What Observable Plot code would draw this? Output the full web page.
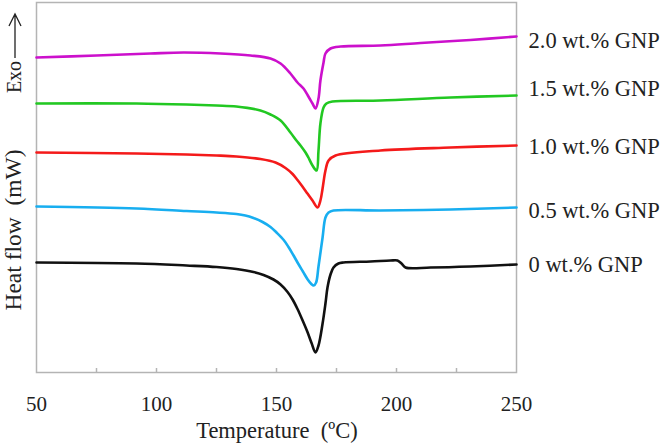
<!DOCTYPE html>
<html><head><meta charset="utf-8">
<script src="https://cdn.jsdelivr.net/npm/d3@7"></script>
<script src="https://cdn.jsdelivr.net/npm/@observablehq/plot@0.6"></script>
<style>
body{margin:0;background:#fff}
svg text{font-family:"Liberation Serif","Times New Roman",serif}
</style>
</head><body><div id="chart"></div>
<script>
// Series names and colours
const samples = ["0 wt.% GNP", "0.5 wt.% GNP", "1.0 wt.% GNP", "1.5 wt.% GNP", "2.0 wt.% GNP"];
const colors  = ["#111111", "#18aef0", "#f41a1a", "#22c822", "#cc10cc"];

// Temperature (°C) and heat flow (mW, arbitrary offset)
const t0  = [50, 91.7, 112.5, 125, 133.3, 140.4, 144.6, 148.75, 151.7, 154.6, 156.7, 158.75, 160.8, 162.9, 164.6, 166.25, 167.5, 169.2, 170.4, 171.25, 172.5, 173.75, 175.8, 177.9, 189.2, 197.5, 200.4, 202.1, 203.75, 214.2, 230.8, 250];
const hf0 = [11.0, 10.9, 10.7, 10.55, 10.35, 10.05, 9.75, 9.3, 8.8, 8.05, 7.3, 6.35, 5.25, 4.05, 2.95, 2.0, 2.7, 4.9, 6.9, 8.5, 9.8, 10.5, 10.9, 11.0, 11.1, 11.2, 11.2, 10.9, 10.5, 10.5, 10.6, 10.8];

const t05  = [50, 91.7, 112.5, 125, 133.3, 137, 140.4, 144.2, 147.5, 150, 153, 155, 157, 159, 161, 163, 164.5, 165.5, 166.5, 167.5, 169.2, 170.4, 171.7, 173.75, 193.3, 222.5, 250];
const hf05 = [16.6, 16.4, 16.15, 16.0, 15.85, 15.7, 15.45, 15.05, 14.55, 14.0, 13.25, 12.55, 11.75, 10.9, 10.1, 9.3, 8.85, 8.7, 9.0, 10.6, 13.5, 15.5, 16.0, 16.2, 16.2, 16.3, 16.5];

const t10  = [50, 91.7, 112.5, 125, 133.3, 143.3, 149.6, 153.75, 156.7, 158.75, 160.8, 162.9, 165, 167.1, 168.3, 169.2, 170.4, 171.7, 174.6, 193.3, 222.5, 250];
const hf10 = [22.0, 21.9, 21.8, 21.7, 21.6, 21.35, 21.0, 20.45, 19.85, 19.25, 18.6, 17.9, 17.2, 16.5, 17.2, 18.4, 20.2, 21.2, 21.7, 22.2, 22.5, 22.7];

const t15  = [50, 91.7, 112.5, 125, 133.3, 143.3, 147.5, 151.7, 155.8, 158.3, 160, 162.1, 163.3, 165, 166.7, 167.5, 168.3, 169.6, 170.8, 173.3, 193.3, 222.5, 250];
const hf15 = [26.9, 26.9, 26.8, 26.7, 26.6, 26.2, 25.8, 25.2, 24.0, 23.2, 22.7, 22.0, 21.5, 20.7, 20.2, 22.2, 24.9, 26.5, 26.9, 27.1, 27.2, 27.5, 27.7];

const t20  = [50, 75, 97.5, 111.25, 126.7, 139.2, 147.5, 151.7, 155.8, 158.75, 161.25, 163.3, 165, 166.25, 167.5, 168.3, 169.6, 170.4, 172.5, 176.7, 193.3, 210, 230.8, 250];
const hf20 = [31.5, 31.7, 31.9, 32.0, 31.9, 31.7, 31.4, 30.9, 29.9, 29.0, 28.4, 27.6, 26.9, 26.4, 27.4, 29.2, 31.0, 31.9, 32.4, 32.6, 32.7, 32.95, 33.25, 33.6];

// Label positions (heat-flow level of each right-hand label)
const labelLevels = [10.8, 16.2, 22.6, 28.4, 33.2];

// Axis ticks
const majorTicks = [50, 100, 150, 200, 250];
const minorTicks = [75, 100, 125, 150, 175, 200, 225];

const temps = [t0, t05, t10, t15, t20];
const flows = [hf0, hf05, hf10, hf15, hf20];
const rows = [];
samples.forEach((s, i) => temps[i].forEach((t, j) => rows.push({sample: s, T: t, hf: flows[i][j]})));
const labels = samples.map((s, i) => ({sample: s, T: temps[i][temps[i].length - 1], y: labelLevels[i]}));

const plot = Plot.plot({
  width: 668, height: 447,
  marginLeft: 36, marginRight: 152, marginTop: 2, marginBottom: 75,
  style: {fontFamily: "Liberation Serif, serif", color: "#222", background: "#fff"},
  x: {domain: [50, 250]},
  y: {domain: [0, 37], axis: null},
  color: {domain: samples, range: colors},
  marks: [
    Plot.frame({stroke: "#b4b4b4", strokeWidth: 1.5}),
    Plot.axisX(minorTicks, {tickSize: -4, tickFormat: () => "", stroke: "#b4b4b4", strokeWidth: 1.5, label: null}),
    Plot.axisX(majorTicks, {tickSize: 0, tickPadding: 24, fontSize: 21, fill: "#222", label: null}),
    Plot.line(rows, {x: "T", y: "hf", z: "sample", stroke: "sample", strokeWidth: 2.6, curve: "catmull-rom"}),
    Plot.text(labels, {x: "T", y: "y", text: "sample", dx: 12, textAnchor: "start", fontSize: 22.5, fill: "#222"})
  ]
});

const svg = d3.select(plot);
svg.append("text")
  .attr("x", 277).attr("y", 438)
  .attr("text-anchor", "middle")
  .attr("font-size", 22.5).attr("fill", "#222")
  .style("white-space", "pre")
  .text("Temperature  (ºC)");
svg.append("text")
  .attr("transform", "translate(21,230) rotate(-90)")
  .attr("text-anchor", "middle")
  .attr("font-size", 23.5).attr("fill", "#222")
  .style("white-space", "pre")
  .text("Heat flow  (mW)");
svg.append("text")
  .attr("transform", "translate(21,77) rotate(-90)")
  .attr("text-anchor", "middle")
  .attr("font-size", 20).attr("fill", "#222")
  .text("Exo");
svg.append("path")
  .attr("d", "M15,58V14M9,26L15,14L21,26")
  .attr("fill", "none").attr("stroke", "#222").attr("stroke-width", 1.3);

document.getElementById("chart").appendChild(plot);
</script>
</body></html>
